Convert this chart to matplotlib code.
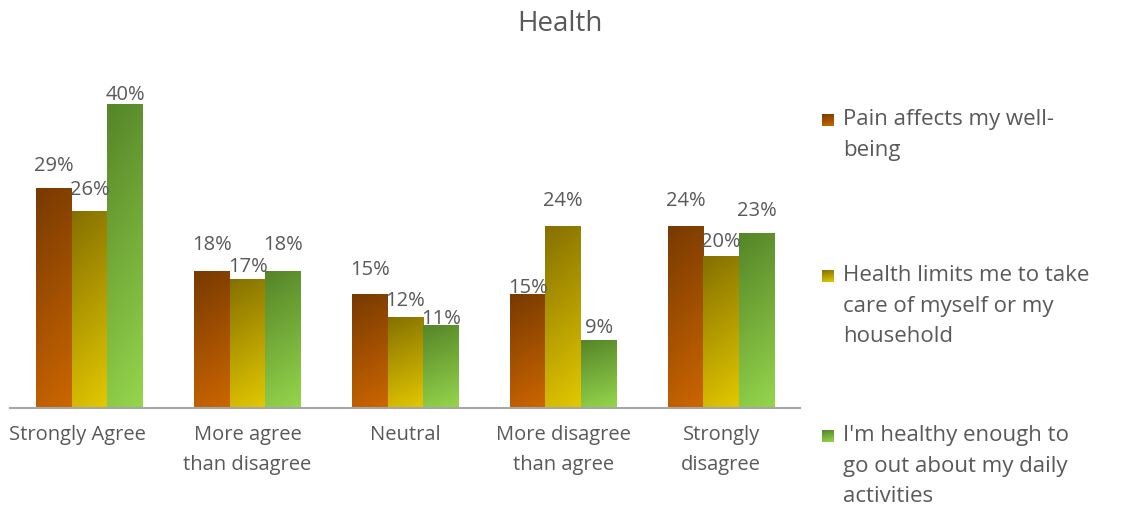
import numpy as np
import matplotlib.pyplot as plt
import matplotlib.transforms as mtransforms
from matplotlib.colors import LinearSegmentedColormap

plt.rcParams['font.family'] = ['Open Sans', 'DejaVu Sans']

categories = ["Strongly Agree", "More agree\nthan disagree", "Neutral",
              "More disagree\nthan agree", "Strongly\ndisagree"]
series_names = ["Pain affects my well-\nbeing",
                "Health limits me to take\ncare of myself or my\nhousehold",
                "I'm healthy enough to\ngo out about my daily\nactivities"]
pain = [29, 18, 15, 15, 24]
limits = [26, 17, 12, 24, 20]
healthy = [40, 18, 11, 9, 23]
values = [pain, limits, healthy]

# (bottom colour, top colour) for each series gradient
grad_colors = [("#cc6600", "#783a00"),
               ("#e3c800", "#857000"),
               ("#95d64c", "#558528")]

# label gap above each bar (pixels, label centre to bar top), as placed in the original
label_gap = [[22, 26, 24, 6, 25],
             [21, 12, 16, 25, 14],
             [9, 26, 6, 12, 22]]

text_color = "#595959"

fig = plt.figure(figsize=(11.29, 5.12), dpi=100)
ax = fig.add_axes([10 / 1129, 1 - 408 / 512, 790 / 1129, (408 - 74) / 512])

n = len(categories)
width = 0.225
x = np.arange(n)

# gradient image: dark at top-left, light at bottom-right
ii, jj = np.mgrid[0:100, 0:20]
grad = (1 - ii / 99) * 0.85 + (1 - jj / 19) * 0.15

cmaps = [LinearSegmentedColormap.from_list("g%d" % s, grad_colors[s]) for s in range(3)]

for s, vals in enumerate(values):
    offs = (s - 1) * width
    bars = ax.bar(x + offs, vals, width, color="none", edgecolor="none")
    for k, (b, v) in enumerate(zip(bars, vals)):
        x0 = b.get_x()
        im = ax.imshow(grad, extent=[x0, x0 + width, 0, v], aspect="auto",
                       cmap=cmaps[s], vmin=0, vmax=1, zorder=2,
                       interpolation="bilinear")
        im.set_clip_path(b)
        off = mtransforms.offset_copy(ax.transData, fig=fig, x=0,
                                      y=label_gap[s][k], units="dots")
        ax.text(x0 + width / 2, v, "%d%%" % v, ha="center", va="center",
                fontsize=14.5, color=text_color, transform=off, zorder=3)

ax.set_xlim(-0.505, 4.5)
ax.set_ylim(0, 44)
for sp in ["top", "right", "left"]:
    ax.spines[sp].set_visible(False)
ax.spines["bottom"].set_color("#a6a6a6")
ax.spines["bottom"].set_linewidth(1.5)
ax.set_yticks([])
ax.set_xticks(x)
ax.set_xticklabels(categories, fontsize=14.5, color=text_color, linespacing=1.7)
ax.tick_params(axis="x", length=0, pad=12)
labs = ax.get_xticklabels()
for lab in labs:
    lab.set_verticalalignment("top")
# first label is pushed right to the left edge in the original
labs[0].set_transform(labs[0].get_transform() +
                      mtransforms.ScaledTranslation(-12 / 100, 0, fig.dpi_scale_trans))

fig.text(560 / 1129, 1 - 24 / 512, "Health", ha="center", va="center",
         fontsize=20, color=text_color)

# legend drawn by hand so markers line up with the first text line
leg_y = [120, 276, 436]
for s in range(3):
    yc = 1 - leg_y[s] / 512
    mk = fig.add_axes([822 / 1129, yc - 6 / 512, 12 / 1129, 12 / 512])
    mk.imshow(grad, aspect="auto", cmap=cmaps[s], vmin=0, vmax=1,
              interpolation="bilinear")
    mk.axis("off")
    fig.text(843 / 1129, yc + 11 / 512, series_names[s], ha="left", va="top",
             fontsize=16, color=text_color, linespacing=1.6)

fig.savefig("out.png", dpi=100)
